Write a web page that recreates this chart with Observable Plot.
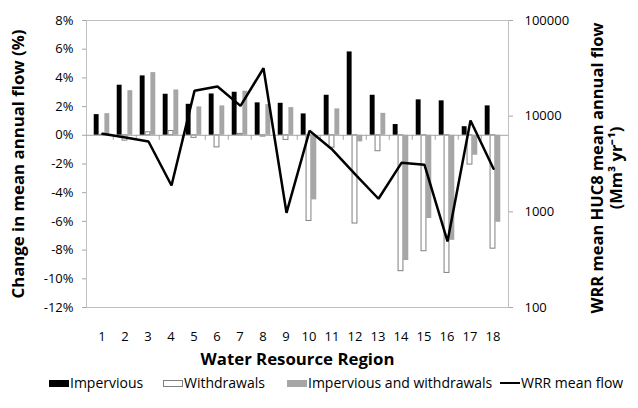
<!DOCTYPE html>
<html><head><meta charset="utf-8">
<script src="https://cdn.jsdelivr.net/npm/d3@7"></script>
<script src="https://cdn.jsdelivr.net/npm/@observablehq/plot@0.6"></script>
<style>
body{margin:0;background:#fff;font-family:"Open Sans",sans-serif;}
#wrap{position:relative;width:638px;height:408px;overflow:hidden;}
#wrap svg{position:absolute;left:0;top:0;}
.leg{position:absolute;top:375px;font-size:14px;color:#000;display:flex;align-items:center;white-space:nowrap;line-height:16px;}
.sw{display:inline-block;width:20px;height:7px;margin-right:1px;box-sizing:border-box;}
</style></head>
<body><div id="wrap"></div>
<script>
const regions = [1,2,3,4,5,6,7,8,9,10,11,12,13,14,15,16,17,18];
const impervious = [1.44,3.49,4.14,2.86,2.16,2.88,3.00,2.26,2.23,1.49,2.79,5.81,2.79,0.75,2.47,2.40,0.60,2.05];
const withdrawals = [0.03,-0.37,0.21,0.30,-0.18,-0.84,0.10,-0.09,-0.32,-5.97,-0.86,-6.15,-1.11,-9.47,-8.08,-9.59,-2.04,-7.90];
const imperviousAndWithdrawals = [1.51,3.11,4.37,3.16,1.98,2.05,3.07,2.14,1.93,-4.50,1.84,-0.46,1.53,-8.73,-5.80,-7.32,-1.39,-6.06];
const meanFlow = [6540,5980,5430,1885,18400,20400,12800,31700,977,7030,4450,2450,1370,3250,3100,490,9010,2820];
const pctTicks = [8,6,4,2,0,-2,-4,-6,-8,-10,-12];
const flowTicks = [100,1000,10000,100000];
const seriesNames = ["Impervious","Withdrawals","Impervious and withdrawals","WRR mean flow"];

const rows = regions.map((r,i)=>({region:r, imp:impervious[i], wd:withdrawals[i], both:imperviousAndWithdrawals[i], flow:meanFlow[i]}));

const W=638, H=370, mt=20, mb=63, ml=86, mr=130;
const bw = (W-ml-mr)/regions.length;
const barW = bw*0.2275;
const pad = (bw-3*barW)/2;
const font = '"Open Sans", sans-serif';

const p1 = Plot.plot({
  width:W, height:H, marginTop:mt, marginBottom:mb, marginLeft:ml, marginRight:mr,
  style:{fontFamily:font, fontSize:"13px", color:"#000", background:"transparent", overflow:"visible"},
  x:{type:"band", domain:regions, padding:0},
  y:{domain:[-12,8]},
  marks:[
    Plot.frame({stroke:"#bfbfbf"}),
    Plot.barY(rows,{x:"region", y:"imp", fill:"#000", insetLeft:pad, insetRight:bw-pad-barW}),
    Plot.barY(rows,{x:"region", y:"both", fill:"#a6a6a6", insetLeft:pad+2*barW, insetRight:pad}),
    Plot.barY(rows,{x:"region", y:"wd", fill:"#fff", stroke:"#808080", strokeWidth:1, insetLeft:pad+barW, insetRight:pad+barW}),
    Plot.ruleY([0],{stroke:"#a6a6a6"}),
    Plot.ruleX(regions.slice(1),{x:d=>d, y1:0, y2:-0.35, dx:-bw/2, stroke:"#a6a6a6"}),
    Plot.axisY({ticks:pctTicks, tickFormat:d=>`${d}%`, tickSize:4, tickPadding:9, stroke:"#a6a6a6", fill:"#000", label:null}),
    Plot.axisX({tickSize:0, tickPadding:24, label:null, fill:"#000"}),
    Plot.text(["Water Resource Region"],{text:d=>d, frameAnchor:"bottom", textAnchor:"middle", lineAnchor:"middle", dy:52, fontSize:16.8, fontWeight:"bold"}),
    Plot.text(["Change in mean annual flow (%)"],{text:d=>d, frameAnchor:"left", textAnchor:"middle", lineAnchor:"middle", dx:-68, rotate:-90, fontSize:16.8, fontWeight:"bold"})
  ]
});

const p2 = Plot.plot({
  width:W, height:H, marginTop:mt, marginBottom:mb, marginLeft:ml, marginRight:mr,
  style:{fontFamily:font, fontSize:"13px", color:"#000", background:"transparent", overflow:"visible"},
  x:{type:"point", domain:regions, padding:0.5, axis:null},
  y:{type:"log", domain:[100,100000]},
  marks:[
    Plot.line(rows,{x:"region", y:"flow", stroke:"#000", strokeWidth:2.5, strokeLinejoin:"miter"}),
    Plot.axisY({anchor:"right", ticks:flowTicks, tickFormat:d=>String(d), tickSize:4, tickPadding:12, stroke:"#a6a6a6", fill:"#000", label:null}),
    Plot.text(["WRR mean HUC8 mean annual flow\n(Mm³ yr⁻¹)"],{text:d=>d, frameAnchor:"right", textAnchor:"middle", lineAnchor:"middle", dx:98, dy:4, rotate:-90, fontSize:16.5, fontWeight:"bold", lineHeight:1.15})
  ]
});

const wrap = document.getElementById("wrap");
wrap.appendChild(p1);
wrap.appendChild(p2);

const legItems = [
  {name:seriesNames[0], left:49, sw:"background:#000;"},
  {name:seriesNames[1], left:163, sw:"background:#fff;border:1px solid #808080;"},
  {name:seriesNames[2], left:287, sw:"background:#a6a6a6;"},
  {name:seriesNames[3], left:500, sw:"height:2.5px;background:#000;"}
];
for (const it of legItems){
  const d = document.createElement("div");
  d.className="leg"; d.style.left=it.left+"px";
  d.innerHTML = `<span class="sw" style="${it.sw}"></span><span>${it.name}</span>`;
  wrap.appendChild(d);
}
</script>
</body></html>
